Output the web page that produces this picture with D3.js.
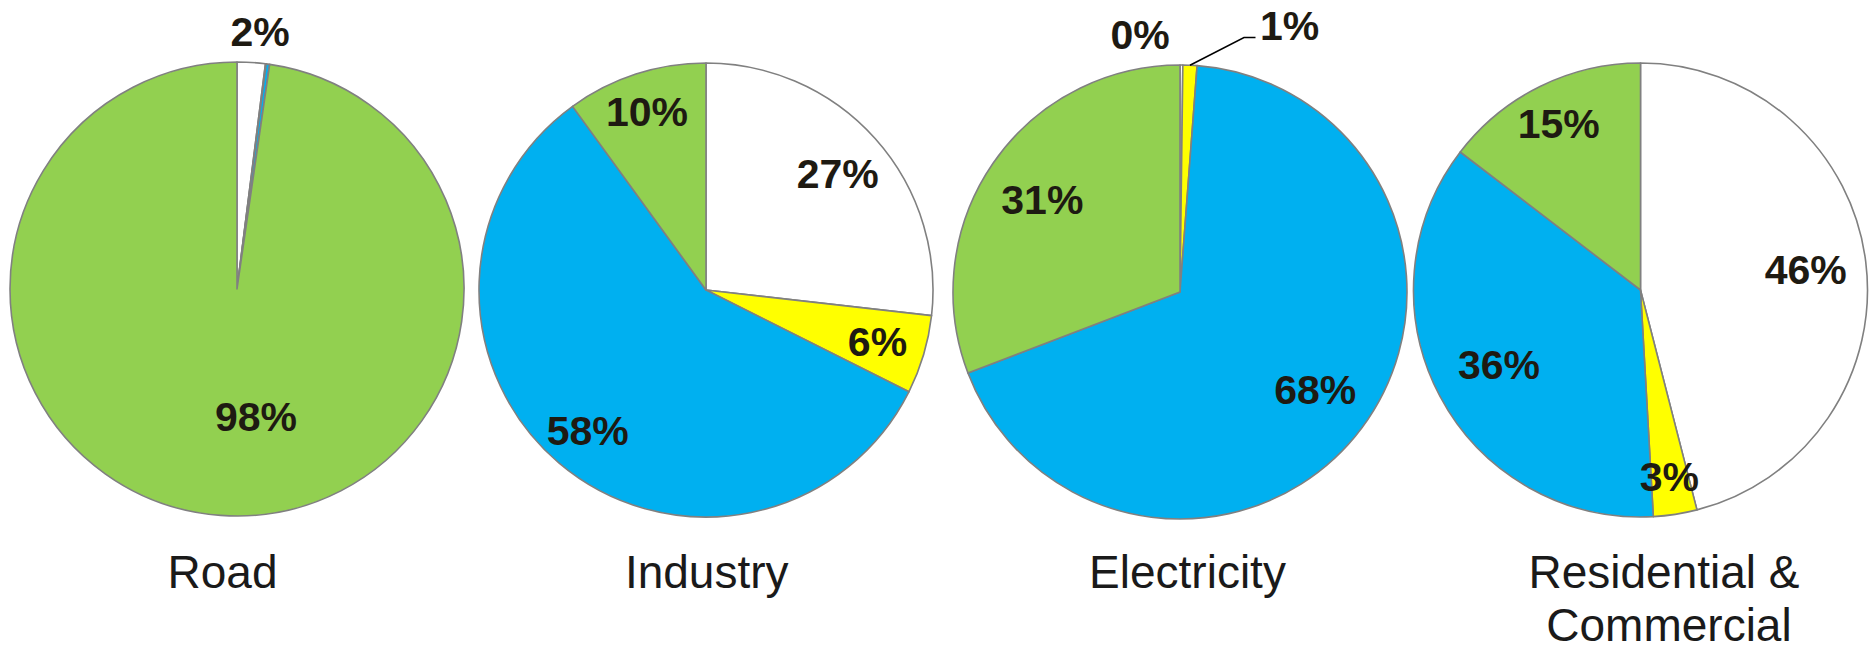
<!DOCTYPE html>
<html>
<head>
<meta charset="utf-8">
<script src="https://cdn.jsdelivr.net/npm/d3@7"></script>
<style>
  html, body { margin: 0; padding: 0; background: #ffffff; }
  svg { display: block; }
</style>
</head>
<body>
<svg id="chart" width="1872" height="651"></svg>
<script>
// ---------------- DATA ----------------
const categories = ["Road", "Industry", "Electricity", "Residential & Commercial"];
const categoryLines = [["Road"], ["Industry"], ["Electricity"], ["Residential &", "Commercial"]];
const seriesKeys = ["White", "Yellow", "Blue", "Green"];   // slice order, clockwise from 12 o'clock
const roadValues        = [2.0, 0.05, 0.25, 97.7];
const industryValues    = [26.8, 5.6, 57.6, 10.0];
const electricityValues = [0.2, 1.0, 68.0, 30.8];
const residentialValues = [46.0, 3.1, 36.3, 14.6];
const allValues = [roadValues, industryValues, electricityValues, residentialValues];

// ---------------- STYLE / LAYOUT ----------------
const colors = d3.scaleOrdinal().domain(seriesKeys).range(["#FFFFFF", "#FFFF00", "#00B0F0", "#92D050"]);
const pieCX = [237, 706, 1180, 1640.5];
const pieCY = [289, 290, 292, 290];
const R = 227;

// label offsets from pie centre (text centre x, baseline y); null = no label
const labelOffsets = [
  [[23, -243], null, null, [19, 142]],
  [[131.7, -102.5], [171.5, 66.4], [-118.3, 154.6], [-59, -164.3]],
  [[-40, -242.7], [109.7, -252], [135.3, 111.6], [-137.7, -78.4]],
  [[165.2, -6], [28.8, 201], [-141.5, 89.3], [-81.8, -151.8]]
];
// leader line (electricity yellow slice): elbow and end relative to centre
const leader = { pie: 2, slice: 1, elbow: [64, -254.5], end: [75.5, -254.5] };

const catLabelX = [[222.5], [706.7], [1187.5], [1664, 1669]];
const catBaseline = 588, catLineGap = 53;

const svg = d3.select("#chart");

const pie = d3.pie().sort(null).value(d => d.value).startAngle(0).endAngle(2 * Math.PI);
const arc = d3.arc().innerRadius(0).outerRadius(R);

allValues.forEach((vals, i) => {
  const data = vals.map((v, k) => ({ key: seriesKeys[k], value: v }));
  const arcs = pie(data);

  const g = svg.append("g")
    .attr("transform", `translate(${pieCX[i]},${pieCY[i]})`);

  g.selectAll("path")
    .data(arcs)
    .join("path")
    .attr("d", arc)
    .attr("fill", d => colors(d.data.key))
    .attr("stroke", "#808080")
    .attr("stroke-width", 1.6)
    .attr("stroke-linejoin", "round");

  // value labels
  arcs.forEach((a, k) => {
    const off = labelOffsets[i][k];
    if (!off) return;
    g.append("text")
      .attr("x", off[0])
      .attr("y", off[1])
      .attr("text-anchor", "middle")
      .attr("font-family", "'Liberation Sans', Arial, Helvetica, sans-serif")
      .attr("font-weight", "bold")
      .attr("font-size", 41)
      .attr("fill", "#1E1A12")
      .text(Math.round(a.data.value) + "%");
  });

  if (leader.pie === i) {
    const a = arcs[leader.slice];
    const mid = (a.startAngle + a.endAngle) / 2;
    const p0 = [R * Math.sin(mid), -R * Math.cos(mid)];
    g.append("polyline")
      .attr("points", [p0, leader.elbow, leader.end].map(p => p.join(",")).join(" "))
      .attr("fill", "none")
      .attr("stroke", "#000000")
      .attr("stroke-width", 1.5);
  }

  // category label
  const t = svg.append("text")
    .attr("font-family", "'Liberation Sans', Arial, Helvetica, sans-serif")
    .attr("font-size", 46)
    .attr("fill", "#1a1a1a")
    .attr("text-anchor", "middle");
  categoryLines[i].forEach((line, j) => {
    t.append("tspan")
      .attr("x", catLabelX[i][j])
      .attr("y", catBaseline + j * catLineGap)
      .text(line);
  });
});
</script>
</body>
</html>
